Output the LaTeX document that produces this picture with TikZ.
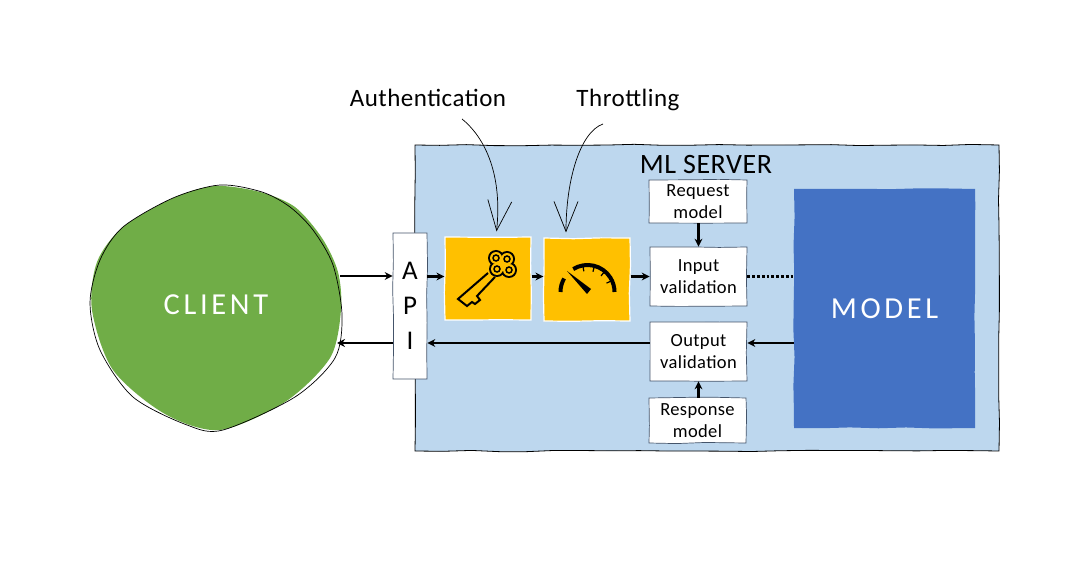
\documentclass[tikz,border=0pt]{standalone}
\usepackage{fontspec}
\setmainfont[LetterSpace=2]{Carlito}
\newfontfamily\capsfont[LetterSpace=12]{Carlito}
\usepackage{tikz}
\usetikzlibrary{arrows.meta,calc,decorations.pathmorphing}
\definecolor{serverc}{HTML}{BDD7EE}
\definecolor{modelc}{HTML}{4472C4}
\definecolor{clientc}{HTML}{70AD47}
\definecolor{gatec}{HTML}{FFC000}
\definecolor{edgec}{HTML}{44546A}
\begin{document}
\begin{tikzpicture}[x=1pt,y=-1pt,font=\fontsize{18.5}{22}\selectfont,>={Stealth[length=8pt,width=8pt]},rough/.style={decorate,decoration={random steps,segment length=28pt,amplitude=.7pt}},box/.style={rough,draw=edgec,fill=white,line width=.7pt,align=center,inner sep=0pt},gate/.style={rough,draw=white,fill=gatec,line width=1.2pt,minimum width=86pt,minimum height=83pt,inner sep=0pt},arr/.style={->,line width=2.8pt},note/.style={-{Straight Barb[length=30pt,width=24pt]},line width=.7pt,shorten >=5pt},bigtext/.style={font=\capsfont\fontsize{30.5}{34}\selectfont,text=white},label/.style={font=\fontsize{25}{29}\selectfont},icon/.style={line width=2pt,draw=black}]
\useasboundingbox (0,0) rectangle (1077,569);
\node[rough,draw=black,fill=serverc,line width=.8pt,minimum width=584pt,minimum height=306pt,inner sep=0pt] (server) at (707,298) {};
\node[font=\fontsize{28}{32}\selectfont] (servername) at (706,165) {ML SERVER};
\node[rough,fill=modelc,minimum width=181pt,minimum height=239pt,inner sep=0pt,bigtext] (model) at (884.5,308.5) {MODEL};
% client blob and its loose outline
\fill[clientc] plot[smooth cycle] coordinates {(215,186) (260,192) (295,207) (322,238) (338,272) (341,310) (330,358) (285,402) (220,430) (165,414) (113,370) (92,310) (97,262) (123,227) (173,198)};
\draw[line width=.7pt] plot[smooth cycle] coordinates {(220,185) (262,192) (290,207) (313,230) (333,265) (342,315) (335,358) (295,397) (223,430) (187,425) (133,397) (100,350) (90,303) (100,260) (123,227) (173,198)};
\node[bigtext] (client) at (216,305) {CLIENT};
\coordinate (clientin) at (340,276);
\coordinate (clientout) at (337,343);
\coordinate (ret) at (0,343);
\node[box,minimum width=34pt,minimum height=146pt,font=\fontsize{27}{35}\selectfont] (api) at (410,306) {A\\P\\I};
\node[gate] (key) at (488,278.5) {};
\node[gate] (gauge) at (587,279.5) {};
\node[box,minimum width=98pt,minimum height=43pt] (request) at (698,201.5) {Request\\model};
\node[box,minimum width=97pt,minimum height=59pt] (input) at (698.5,276.5) {Input\\validation};
\node[box,minimum width=97pt,minimum height=59pt] (output) at (698.5,351.5) {Output\\validation};
\node[box,minimum width=97pt,minimum height=45pt] (response) at (697.5,420.5) {Response\\model};
\node[label] (authlabel) at (428,98) {Authentication};
\node[label] (throttlabel) at (628,100) {Throttling};
\coordinate (authstart) at (462,119);
\coordinate (throtstart) at (603,124);
% key icon
\draw[icon] (488,273)--(458,299)--(467,306)--(472,302)--(475,304)--(480,300)--(477,296)--(495,277);
\foreach \x/\y in {496/258,507/259,497/269,509/270} \fill (\x,\y) circle[radius=8pt];
\foreach \x/\y in {496/258,507/259,497/269,509/270} \fill[gatec] (\x,\y) circle[radius=6pt];
\fill[gatec] (502.5,264) circle[radius=7pt];
\foreach \x/\y in {496/258,507/259,497/269,509/270} \draw[icon,line width=1.5pt] (\x,\y) circle[radius=3pt];
% gauge icon
\draw[line width=4pt] (560.5,292) arc[start angle=180,end angle=150,radius=27pt];
\draw[line width=4pt] (573.2,269.1) arc[start angle=122,end angle=0,radius=27pt];
\foreach \a in {25,50,75,100} \draw[line width=1.2pt] ($(587.5,292)+(\a:26pt)$)--($(587.5,292)+(\a:21pt)$);
\fill (567,271)--(591,289)--(587,294)--cycle;
% connectors
\draw[arr] (clientin)--(clientin-|api.west);
\draw[arr] (api.east|-input.west)--(key.west|-input.west);
\draw[arr] (key.east|-input.west)--(gauge.west|-input.west);
\draw[arr] (gauge.east|-input.west)--(input.west);
\draw[arr] (request.south-|input.north)--(input.north);
\draw[line width=2.8pt,dotted] (input.east)--(input.east-|model.west);
\draw[arr] (model.west|-ret)--(output.east|-ret);
\draw[arr] (output.west|-ret)--(api.east|-ret);
\draw[arr] (api.west|-ret)--(clientout);
\draw[arr] (response.north-|output.south)--(output.south);
\draw[note] (authstart) .. controls (482,135) and (503,170) .. ([xshift=8pt]key.north);
\draw[note] (throtstart) .. controls (580,132) and (566,180) .. ([xshift=-21pt]gauge.north);
\end{tikzpicture}
\end{document}
